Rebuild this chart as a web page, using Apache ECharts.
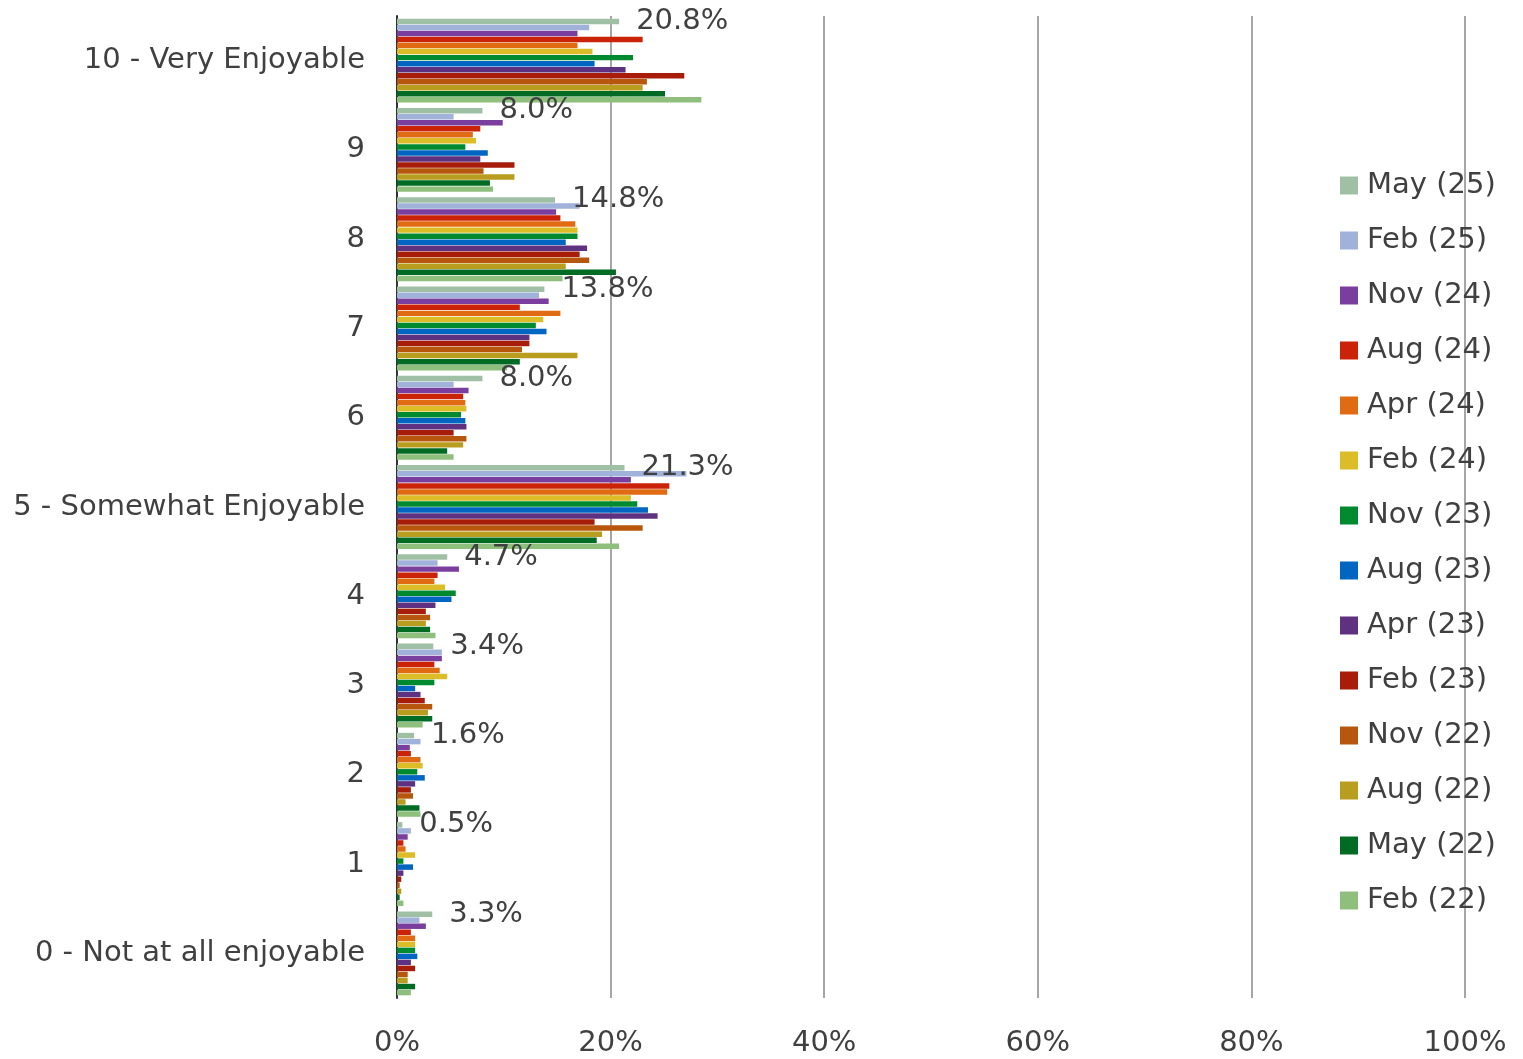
<!DOCTYPE html>
<html>
<head>
<meta charset="utf-8">
<script src="https://cdn.jsdelivr.net/npm/echarts@6/dist/echarts.min.js"></script>
<style>html,body{margin:0;padding:0;background:#fff}#c{width:1523px;height:1059px}</style>
</head>
<body>
<div id="c"></div>
<script>
const categories = ["0 - Not at all enjoyable","1","2","3","4","5 - Somewhat Enjoyable","6","7","8","9","10 - Very Enjoyable"];
const xTickLabels = ["0%","20%","40%","60%","80%","100%"];
// values per category, order: 0,1,...,10
const may25 = [3.3,0.5,1.6,3.4,4.7,21.3,8.0,13.8,14.8,8.0,20.8];
const feb25 = [2.1,1.3,2.2,4.2,3.8,27.1,5.3,13.3,17.1,5.3,18.0];
const nov24 = [2.7,1.0,1.2,4.2,5.8,21.9,6.7,14.2,14.9,9.9,16.9];
const aug24 = [1.3,0.6,1.3,3.5,3.8,25.5,6.2,11.5,15.3,7.8,23.0];
const apr24 = [1.7,0.8,2.2,4.0,3.5,25.3,6.4,15.3,16.7,7.1,16.9];
const feb24 = [1.7,1.7,2.4,4.7,4.5,21.9,6.5,13.7,16.9,7.4,18.3];
const nov23 = [1.7,0.6,1.9,3.5,5.5,22.5,6.0,13.0,16.9,6.4,22.1];
const aug23 = [1.9,1.5,2.6,1.7,5.1,23.5,6.4,14.0,15.8,8.5,18.5];
const apr23 = [1.3,0.6,1.7,2.2,3.6,24.4,6.5,12.4,17.8,7.8,21.4];
const feb23 = [1.7,0.4,1.3,2.6,2.7,18.5,5.3,12.4,17.1,11.0,26.9];
const nov22 = [1.0,0.25,1.5,3.3,3.1,23.0,6.5,11.7,18.0,8.1,23.4];
const aug22 = [1.0,0.4,0.8,2.9,2.7,19.2,6.2,16.9,15.8,11.0,23.0];
const may22 = [1.7,0.25,2.1,3.3,3.1,18.7,4.7,11.5,20.5,8.7,25.1];
const feb22 = [1.3,0.6,2.2,2.4,3.6,20.8,5.3,10.3,15.5,9.0,28.5];

const seriesNames = ["May (25)","Feb (25)","Nov (24)","Aug (24)","Apr (24)","Feb (24)","Nov (23)","Aug (23)","Apr (23)","Feb (23)","Nov (22)","Aug (22)","May (22)","Feb (22)"];
const seriesData = [may25,feb25,nov24,aug24,apr24,feb24,nov23,aug23,apr23,feb23,nov22,aug22,may22,feb22];
const colors = ["#a0c0a6","#a0b1da","#7a3e9f","#cb2308","#e06b12","#dcbd27","#008a30","#0066c2","#5f3181","#a71d09","#b7560d","#b89d1f","#006b23","#8fbf7d"];

const FONT = "DejaVu Sans";
const chart = echarts.init(document.getElementById('c'));
chart.setOption({
  animation: false,
  textStyle: {fontFamily: FONT},
  grid: {left: 397, right: 58, top: 16, bottom: 61, containLabel: false},
  legend: {
    orient: 'vertical',
    left: 1335,
    top: 166,
    data: seriesNames,
    icon: 'rect',
    itemWidth: 18,
    itemHeight: 18,
    itemGap: 26,
    textStyle: {fontFamily: FONT, fontSize: 29, color: '#404040', lineHeight: 28, padding: [0, 0, 0, 4]},
    selectedMode: false
  },
  xAxis: {
    type: 'value',
    min: 0, max: 100, interval: 20,
    axisLine: {show: false},
    axisTick: {show: false},
    axisLabel: {
      fontFamily: FONT, fontSize: 29, color: '#404040', margin: 31,
      formatter: v => xTickLabels[Math.round(v / 20)]
    },
    splitLine: {show: true, lineStyle: {color: '#a6a6a6', width: 2}}
  },
  yAxis: {
    type: 'category',
    data: categories,
    axisLine: {show: true, lineStyle: {color: '#333333', width: 2}},
    axisTick: {show: false},
    axisLabel: {fontFamily: FONT, fontSize: 29, color: '#404040', margin: 32},
    splitLine: {show: false}
  },
  series: seriesNames.map((name, i) => ({
    name: name,
    type: 'bar',
    data: seriesData[i],
    itemStyle: {color: colors[i]},
    barGap: '10%',
    barCategoryGap: '6%',
    label: i === 0 ? {
      show: true, position: 'right', distance: 17,
      fontFamily: FONT, fontSize: 29, color: '#404040',
      formatter: p => p.value.toFixed(1) + '%'
    } : {show: false},
    z: i === 0 ? 3 : 2
  }))
});
</script>
</body>
</html>
